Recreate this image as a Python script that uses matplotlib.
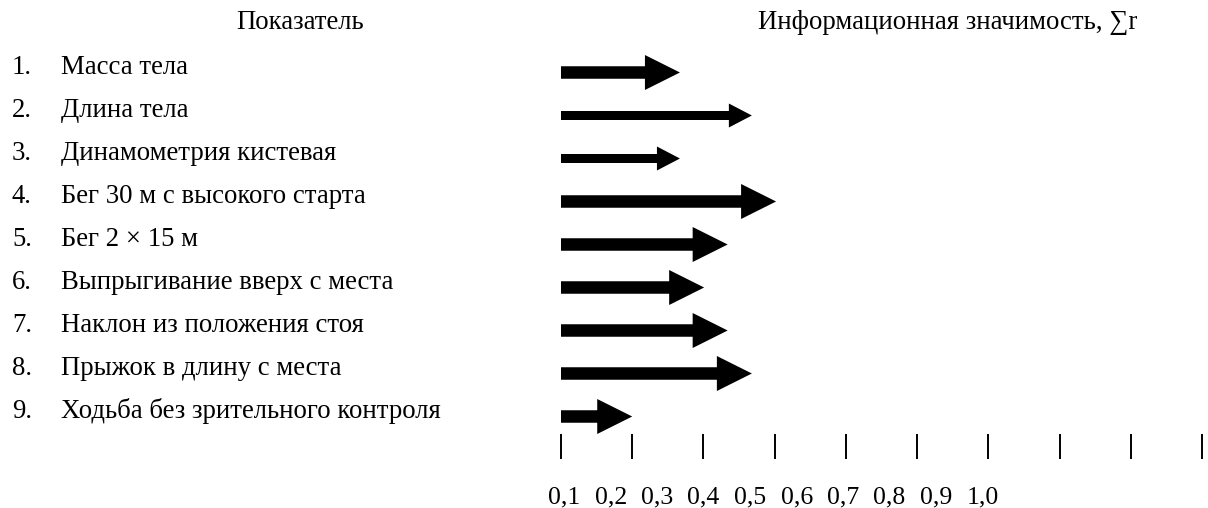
import matplotlib.pyplot as plt
from matplotlib.transforms import blended_transform_factory

# indicators and their information value (arrow tip on the scale)
indicators = [
    'Масса тела',
    'Длина тела',
    'Динамометрия кистевая',
    'Бег 30 м с высокого старта',
    'Бег 2 × 15 м',
    'Выпрыгивание вверх с места',
    'Наклон из положения стоя',
    'Прыжок в длину с места',
    'Ходьба без зрительного контроля',
]
info_value = [0.267, 0.368, 0.267, 0.402, 0.334, 0.301, 0.334, 0.368, 0.200]
arrow_start = 0.1
scale_ticks = [0.1, 0.2, 0.3, 0.4, 0.5, 0.6, 0.7, 0.8, 0.9, 1.0]
scale_labels = ['0,1', '0,2', '0,3', '0,4', '0,5', '0,6', '0,7', '0,8', '0,9', '1,0']
thin_arrow = [False, True, True, False, False, False, False, False, False]

W, H = 1208, 508
fig = plt.figure(figsize=(W / 100, H / 100), dpi=100)
ax = fig.add_axes([0, 0, 1, 1])
ax.set_axis_off()

# pixel layout of the scale: 0.1 -> x=561, 1.0 -> x=1202 ; rows start at y=72.5, step 43
px_per_unit = (1202 - 561) / 0.9
row_step = 43.0
ax.set_xlim(0.1 - 561 / px_per_unit, 0.1 + (W - 561) / px_per_unit)
ax.set_ylim((H - 72.5) / row_step, -72.5 / row_step)

font = ['Liberation Serif', 'DejaVu Serif']
fs = 19.3

# row text
trans = blended_transform_factory(fig.transFigure, ax.transData)
for i, name in enumerate(indicators):
    ax.text(12 / W, i + 1.5 / row_step, f'{i + 1}.', transform=trans, family=font,
            fontsize=fs, va='baseline', ha='left')
    ax.text(61 / W, i + 1.5 / row_step, name, transform=trans, family=font,
            fontsize=fs, va='baseline', ha='left')

# arrows
for i, v in enumerate(info_value):
    if thin_arrow[i]:
        w, hw, hl = 9, 24, 23
    else:
        w, hw, hl = 12.5, 35, 35
    ax.arrow(arrow_start, i, v - arrow_start, 0, width=w / row_step,
             head_width=hw / row_step, head_length=hl / px_per_unit,
             length_includes_head=True, color='black', lw=0)

# scale ticks
ax.vlines(scale_ticks, (434 - 72.5) / row_step, (459 - 72.5) / row_step,
          color='black', lw=1.4)

# scale labels (set compactly under the left part of the scale)
for i, lab in enumerate(scale_labels):
    ax.text((548 + i * 46.5) / W, 1 - 503 / H, lab, transform=fig.transFigure,
            family=font, fontsize=18.5, va='baseline', ha='left')

# headers
fig.text(236 / W, 1 - 29 / H, 'Показатель', family=font, fontsize=fs,
         va='baseline', ha='left')
fig.text(1137 / W, 1 - 29 / H, 'Информационная значимость, ∑r', family=font,
         fontsize=fs, va='baseline', ha='right')

fig.savefig('out.png', dpi=100, facecolor='white')
